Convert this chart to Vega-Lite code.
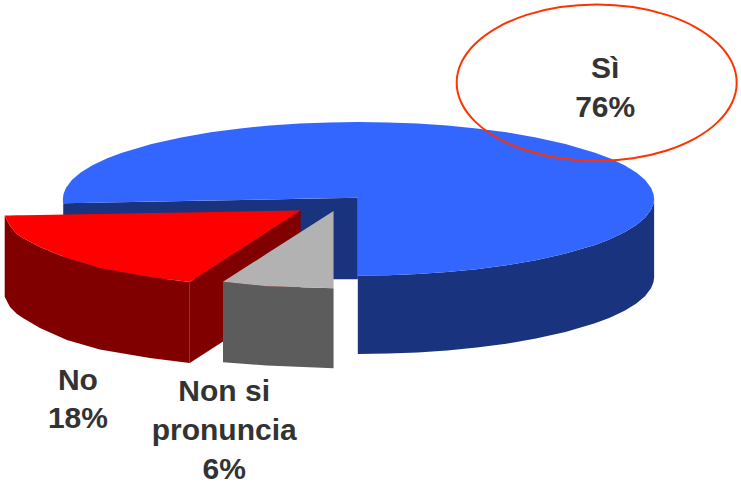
{
"$schema":"https://vega.github.io/schema/vega-lite/v6.json",
"width":741,"height":490,
"autosize":{"type":"fit","contains":"padding"},
"padding":0,
"background":"white",
"config":{"view":{"stroke":null}},
"datasets":{
"blueSide":[{"x":358.3,"y":275.6,"y2":354},{"x":388.6,"y":275.2,"y2":353.6},{"x":418.2,"y":274.1,"y2":352.5},{"x":447.8,"y":272.1,"y2":350.5},{"x":477.4,"y":269.2,"y2":347.6},{"x":507,"y":265.3,"y2":343.7},{"x":536.6,"y":260.2,"y2":338.6},{"x":566.2,"y":253.6,"y2":332},{"x":595.8,"y":244.9,"y2":323.3},{"x":610.6,"y":239.3,"y2":317.7},{"x":625.4,"y":232.3,"y2":310.7},{"x":637.2,"y":225,"y2":303.4},{"x":646.1,"y":217.5,"y2":295.9},{"x":652,"y":209.6,"y2":288},{"x":654.4,"y":203.7,"y2":282.1},{"x":655,"y":198.8,"y2":277.2}],
"blueInner":[{"x":63.3,"y":203.3,"y2":279.3},{"x":358.3,"y":197.7,"y2":279.3}],
"blueTopLeft":[{"x":63,"y":198.8,"y2":203.3},{"x":63.6,"y":193.9,"y2":203.3},{"x":66,"y":188,"y2":203.2},{"x":71.9,"y":180.1,"y2":203.1},{"x":80.8,"y":172.6,"y2":203},{"x":92.6,"y":165.3,"y2":202.7},{"x":107.4,"y":158.3,"y2":202.4},{"x":122.2,"y":152.7,"y2":202.2},{"x":151.8,"y":144,"y2":201.6},{"x":181.4,"y":137.4,"y2":201},{"x":211,"y":132.3,"y2":200.5},{"x":240.6,"y":128.4,"y2":199.9},{"x":270.2,"y":125.5,"y2":199.4},{"x":299.8,"y":123.5,"y2":198.8},{"x":329.4,"y":122.4,"y2":198.3},{"x":358.3,"y":122,"y2":197.7},{"x":362,"y":122,"y2":197.7}],
"blueTopRight":[{"x":358.3,"y":122,"y2":275.6},{"x":388.6,"y":122.4,"y2":275.2},{"x":418.2,"y":123.5,"y2":274.1},{"x":447.8,"y":125.5,"y2":272.1},{"x":477.4,"y":128.4,"y2":269.2},{"x":507,"y":132.3,"y2":265.3},{"x":536.6,"y":137.4,"y2":260.2},{"x":566.2,"y":144,"y2":253.6},{"x":595.8,"y":152.7,"y2":244.9},{"x":610.6,"y":158.3,"y2":239.3},{"x":625.4,"y":165.3,"y2":232.3},{"x":637.2,"y":172.6,"y2":225},{"x":646.1,"y":180.1,"y2":217.5},{"x":652,"y":188,"y2":209.6},{"x":654.4,"y":193.9,"y2":203.7},{"x":655,"y":198.8,"y2":198.8}],
"redInner":[{"x":190,"y":282,"y2":363},{"x":301,"y":210.5,"y2":291.5}],
"redSide":[{"x":4.7,"y":215.5,"y2":296.7},{"x":10,"y":226,"y2":307},{"x":17,"y":234,"y2":314},{"x":23,"y":238,"y2":318},{"x":40,"y":247,"y2":328},{"x":67,"y":258,"y2":340},{"x":100,"y":268,"y2":349.5},{"x":150,"y":277,"y2":358},{"x":190,"y":282,"y2":363}],
"redTop":[{"x":4.7,"y":215.5,"y2":215.5},{"x":10,"y":215.4,"y2":226},{"x":17,"y":215.3,"y2":234},{"x":23,"y":215.2,"y2":238},{"x":40,"y":214.9,"y2":247},{"x":67,"y":214.5,"y2":258},{"x":100,"y":213.9,"y2":268},{"x":150,"y":213.1,"y2":277},{"x":190,"y":212.4,"y2":282},{"x":301,"y":210.5,"y2":210.5}],
"grayTop":[{"x":223.3,"y":281.7,"y2":281.7},{"x":267,"y":253.8,"y2":286.3},{"x":334,"y":211,"y2":288.3}],
"graySide":[{"x":223.3,"y":281.7,"y2":362.3},{"x":267,"y":286.3,"y2":365.5},{"x":334,"y":288.3,"y2":368.3}],
"callout":[{"i":0,"x":737.7,"y":82.7},{"i":1,"x":732.9,"y":103},{"i":2,"x":718.9,"y":121.9},{"i":3,"x":696.6,"y":138.1},{"i":4,"x":667.6,"y":150.5},{"i":5,"x":633.8,"y":158.3},{"i":6,"x":597.5,"y":161},{"i":7,"x":561.2,"y":158.3},{"i":8,"x":527.4,"y":150.5},{"i":9,"x":498.4,"y":138.1},{"i":10,"x":476.1,"y":121.9},{"i":11,"x":462.1,"y":103},{"i":12,"x":457.3,"y":82.7},{"i":13,"x":462.1,"y":62.4},{"i":14,"x":476.1,"y":43.5},{"i":15,"x":498.4,"y":27.3},{"i":16,"x":527.4,"y":14.9},{"i":17,"x":561.2,"y":7.1},{"i":18,"x":597.5,"y":4.4},{"i":19,"x":633.8,"y":7.1},{"i":20,"x":667.6,"y":14.9},{"i":21,"x":696.6,"y":27.3},{"i":22,"x":718.9,"y":43.5},{"i":23,"x":732.9,"y":62.4}],
"labels":[{"t":"Sì","x":606,"y":78},{"t":"76%","x":606,"y":116.7},{"t":"No","x":78,"y":390},{"t":"18%","x":78,"y":428},{"t":"Non si","x":224.5,"y":401},{"t":"pronuncia","x":224.5,"y":440},{"t":"6%","x":224.5,"y":479}]
},
"encoding":{
"x":{"field":"x","type":"quantitative","axis":null,"scale":{"domain":[0,741],"nice":false,"zero":false}},
"y":{"field":"y","type":"quantitative","axis":null,"scale":{"domain":[490,0],"nice":false,"zero":false}}
},
"layer":[
{"data":{"name":"blueSide"},"mark":{"type":"area","color":"#19337F"},"encoding":{"y2":{"field":"y2"}}},
{"data":{"name":"blueInner"},"mark":{"type":"area","color":"#19337F"},"encoding":{"y2":{"field":"y2"}}},
{"data":{"name":"blueTopRight"},"mark":{"type":"area","color":"#3366FF"},"encoding":{"y2":{"field":"y2"}}},
{"data":{"name":"blueTopLeft"},"mark":{"type":"area","color":"#3366FF"},"encoding":{"y2":{"field":"y2"}}},
{"data":{"name":"redInner"},"mark":{"type":"area","color":"#800000"},"encoding":{"y2":{"field":"y2"}}},
{"data":{"name":"redSide"},"mark":{"type":"area","color":"#800000"},"encoding":{"y2":{"field":"y2"}}},
{"data":{"name":"redTop"},"mark":{"type":"area","color":"#FF0000"},"encoding":{"y2":{"field":"y2"}}},
{"data":{"name":"graySide"},"mark":{"type":"area","color":"#5C5C5C"},"encoding":{"y2":{"field":"y2"}}},
{"data":{"name":"grayTop"},"mark":{"type":"area","color":"#B2B2B2"},"encoding":{"y2":{"field":"y2"}}},
{"data":{"name":"callout"},"mark":{"type":"line","color":"#FF3300","strokeWidth":2,"interpolate":"cardinal-closed"},"encoding":{"order":{"field":"i","type":"quantitative"}}},
{"data":{"name":"labels"},"mark":{"type":"text","font":"Liberation Sans","fontWeight":"bold","fontSize":30,"color":"#333333","align":"center","baseline":"alphabetic"},"encoding":{"text":{"field":"t"}}}
]
}
